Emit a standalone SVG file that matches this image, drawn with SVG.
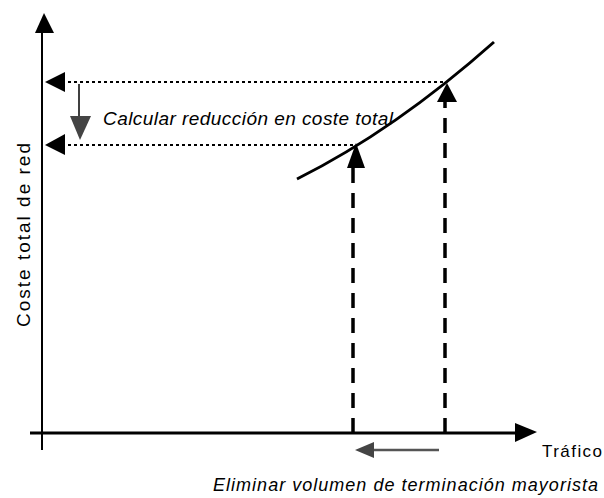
<svg xmlns="http://www.w3.org/2000/svg" width="604" height="498" viewBox="0 0 604 498">
<style>
text{font-family:"Liberation Sans",Arial,sans-serif;fill:#000}
.it{font-style:italic}
.axis{stroke:#000;fill:none}
.dot{stroke:#000;stroke-width:2;stroke-dasharray:3 3;fill:none}
.dash{stroke:#000;stroke-width:3.5;stroke-dasharray:15 10;fill:none}
.tri{fill:#000}
.gray{fill:#444}
</style>
<rect width="604" height="498" fill="#fff"/>
<g id="connectors">
  <!-- Y axis -->
  <line class="axis" x1="42" y1="30" x2="42" y2="450" stroke-width="2"/>
  <polygon class="tri" points="44,13 35,33 54,33"/>
  <!-- X axis -->
  <line class="axis" x1="30" y1="433" x2="518" y2="433" stroke-width="3"/>
  <polygon class="tri" points="537,432 515,423 515,442"/>
  <!-- dotted horizontal lines -->
  <line class="dot" x1="62" y1="82" x2="447" y2="82"/>
  <polygon class="tri" points="45,82 65,72 65,92"/>
  <line class="dot" x1="62" y1="145" x2="355" y2="145"/>
  <polygon class="tri" points="45,145 65,134 65,155"/>
  <!-- down arrow -->
  <line x1="79" y1="84" x2="79" y2="120" stroke="#000" stroke-width="1.5"/>
  <polygon class="gray" points="80,140 70,116 91,116"/>
  <!-- dashed verticals -->
  <line class="dash" x1="353" y1="433" x2="353" y2="165"/>
  <polygon class="tri" points="356,143 347,168 365,168"/>
  <line class="dash" x1="445" y1="433" x2="445" y2="100"/>
  <polygon class="tri" points="447,83 437,102 457,102"/>
  <!-- curve -->
  <path d="M297,179 Q395,130 494,42" stroke="#000" stroke-width="3" fill="none"/>
  <!-- bottom left arrow -->
  <line x1="370" y1="450" x2="439" y2="450" stroke="#555" stroke-width="2.5"/>
  <polygon class="gray" points="355,450 374,442 374,458"/>
</g>
<g id="label-y">
  <text x="0" y="0" font-size="19" transform="translate(30,327) rotate(-90)" textLength="184" lengthAdjust="spacing">Coste total de red</text>
</g>
<g id="label-calc">
  <text class="it" x="103" y="125" font-size="19" textLength="290" lengthAdjust="spacing">Calcular reducción en coste total</text>
</g>
<g id="label-x">
  <text x="542" y="457" font-size="17" textLength="60" lengthAdjust="spacing">Tráfico</text>
</g>
<g id="label-elim">
  <text class="it" x="213" y="491" font-size="18" textLength="385" lengthAdjust="spacing">Eliminar volumen de terminación mayorista</text>
</g>
</svg>
